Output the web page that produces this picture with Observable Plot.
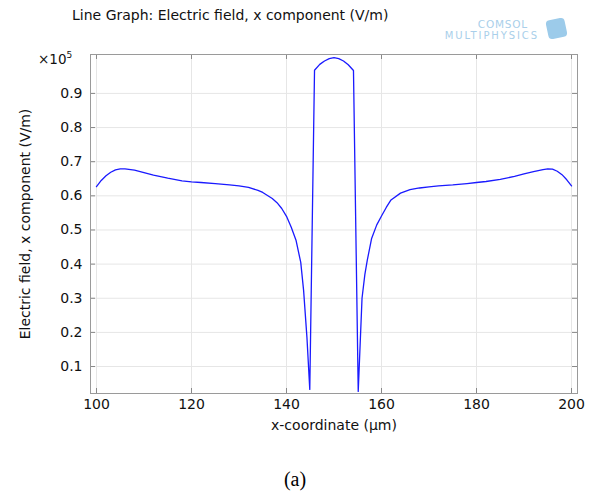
<!DOCTYPE html>
<html>
<head>
<meta charset="utf-8">
<script src="https://cdn.jsdelivr.net/npm/d3@7"></script>
<script src="https://cdn.jsdelivr.net/npm/@observablehq/plot@0.6"></script>
<style>
  body { margin: 0; background: #fff; font-family: "DejaVu Sans", sans-serif; }
  #wrap { position: relative; width: 590px; height: 493px; overflow: hidden; }
  #chart { position: absolute; left: 0; top: 0; }
  .title { position: absolute; left: 72px; top: 7px; font-size: 14px; line-height: 16px; color: #111; white-space: nowrap; }
  .scale { position: absolute; left: 38px; top: 48px; font-size: 13.5px; line-height: 15px; color: #111; }
  .scale sup { font-size: 9px; vertical-align: 6px; }
  .logo1 { position: absolute; left: 420px; width: 108px; top: 19px; text-align: right; color: #a9cfea; font-size: 10.5px; line-height: 11px; letter-spacing: 0.8px; }
  .logo2 { position: absolute; left: 420px; width: 119px; top: 30px; text-align: right; color: #a9cfea; font-size: 10px; line-height: 11px; letter-spacing: 1.9px; }
  .icon { position: absolute; left: 547px; top: 19px; width: 19px; height: 19px; background: #9ccbea; border-radius: 4px; transform: rotate(-12deg); }
  .cap { position: absolute; left: 0; top: 467px; width: 590px; text-align: center; font-family: "Liberation Serif", "Times New Roman", serif; font-size: 20px; line-height: 24px; color: #000; }
</style>
</head>
<body>
<div id="wrap">
  <div id="chart"></div>
  <div class="title">Line Graph: Electric field, x component (V/m)</div>
  <div class="logo1">COMSOL</div>
  <div class="logo2">MULTIPHYSICS</div>
  <div class="icon"></div>
  <div class="scale">×10<sup>5</sup></div>
  <div class="cap">(a)</div>
</div>
<script>
// x-coordinate (µm)
const xCoord = [100, 101, 102, 103, 104, 105, 106, 108, 110, 112, 115, 118, 120, 122, 125, 128, 130, 132, 134, 135, 136, 137, 138, 139, 140, 141, 142, 143, 143.6, 144.3, 144.9,
  145.9, 147, 148, 149, 150, 151, 152, 153, 154.1,
  155.1, 155.9, 156.5, 157, 157.9, 159, 160, 161, 162, 164, 166, 168, 170, 172, 175, 178, 180, 182, 185, 188, 190, 192, 194, 195, 196, 197, 198, 199, 200];
// Electric field, x component (×1e5 V/m)
const efield = [0.627, 0.645, 0.659, 0.669, 0.676, 0.679, 0.679, 0.675, 0.668, 0.661, 0.652, 0.644, 0.641, 0.639, 0.636, 0.632, 0.629, 0.625, 0.616, 0.610, 0.601, 0.592, 0.580, 0.563, 0.540, 0.508, 0.470, 0.405, 0.323, 0.186, 0.033,
  0.968, 0.985, 0.995, 1.002, 1.005, 1.002, 0.995, 0.984, 0.967,
  0.027, 0.300, 0.370, 0.411, 0.474, 0.515, 0.541, 0.566, 0.588, 0.608, 0.618, 0.623, 0.626, 0.629, 0.632, 0.636, 0.639, 0.642, 0.648, 0.657, 0.664, 0.671, 0.677, 0.679, 0.678, 0.672, 0.662, 0.647, 0.629];

const xTicks = [100, 120, 140, 160, 180, 200];
const yTicks = [0.1, 0.2, 0.3, 0.4, 0.5, 0.6, 0.7, 0.8, 0.9];

const data = xCoord.map((x, i) => ({x, y: efield[i]}));

const W = 590, H = 440, ML = 90, MR = 13, MT = 54, MB = 47;
const PW = W - ML - MR, PH = H - MT - MB, TK = 5;

const chart = Plot.plot({
  width: W, height: H,
  marginLeft: ML, marginRight: MR, marginTop: MT, marginBottom: MB,
  style: {fontFamily: "DejaVu Sans", fontSize: "14px", background: "transparent", color: "#111"},
  x: {domain: [98.74, 201.26]},
  y: {domain: [0.021, 1.014]},
  marks: [
    Plot.gridX(xTicks, {stroke: "#e6e6e6", strokeOpacity: 1}),
    Plot.gridY(yTicks, {stroke: "#e6e6e6", strokeOpacity: 1}),
    Plot.tickY(yTicks, {y: d => d, insetRight: PW - TK, stroke: "#888"}),
    Plot.tickY(yTicks, {y: d => d, insetLeft: PW - TK, stroke: "#888"}),
    Plot.tickX(xTicks, {x: d => d, insetTop: PH - TK, stroke: "#888"}),
    Plot.tickX(xTicks, {x: d => d, insetBottom: PH - TK, stroke: "#888"}),
    Plot.axisX(xTicks, {tickSize: 0, tickPadding: 6, label: "x-coordinate (µm)", labelAnchor: "center", labelOffset: 36, labelArrow: "none"}),
    Plot.axisY(yTicks, {tickSize: 0, tickPadding: 8, tickFormat: d => d.toFixed(1), label: "Electric field, x component (V/m)", labelAnchor: "center", labelOffset: 70, labelArrow: "none"}),
    Plot.frame({stroke: "#9a9a9a"}),
    Plot.line(data, {x: "x", y: "y", stroke: "#1a1aff", strokeWidth: 1.3})
  ]
});
document.getElementById("chart").appendChild(chart);
</script>
</body>
</html>
